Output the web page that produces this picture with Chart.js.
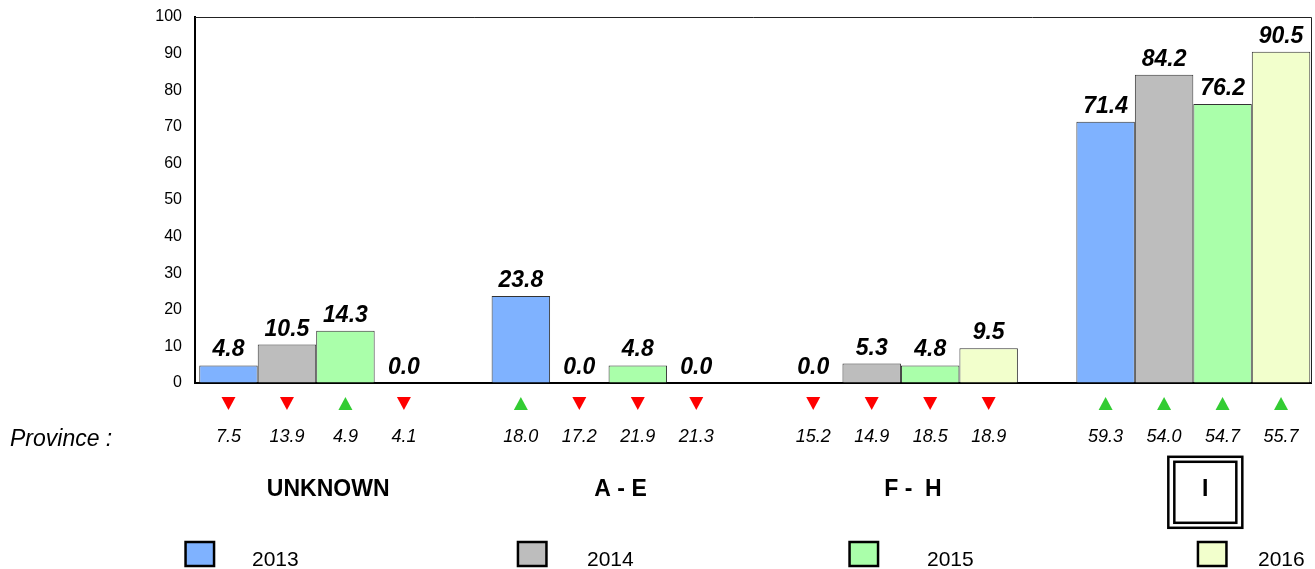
<!DOCTYPE html>
<html>
<head>
<meta charset="utf-8">
<script src="https://cdn.jsdelivr.net/npm/chart.js@4.4.1/dist/chart.umd.min.js"></script>
<style>
  body { margin: 0; background: #fff; }
  #wrap { width: 1315px; height: 569px; }
</style>
</head>
<body>
<div id="wrap"><canvas id="provChart" width="1315" height="569"></canvas></div>
<script>
// province groups and years
const provinces = ['UNKNOWN', 'A - E', 'F -  H', 'I'];
const years = ['2013', '2014', '2015', '2016'];
const highlightProvince = 'I';

// bar values per year
const values2013 = [4.8, 23.8, 0.0, 71.4];
const values2014 = [10.5, 0.0, 5.3, 84.2];
const values2015 = [14.3, 4.8, 4.8, 76.2];
const values2016 = [0.0, 0.0, 9.5, 90.5];

// comparison values shown under the axis
const compare2013 = [7.5, 18.0, 15.2, 59.3];
const compare2014 = [13.9, 17.2, 14.9, 54.0];
const compare2015 = [4.9, 21.9, 18.5, 54.7];
const compare2016 = [4.1, 21.3, 18.9, 55.7];

const yMin = 0, yMax = 100, yStep = 10;

const colors = ['#7fb2ff', '#bdbdbd', '#aaffaa', '#f2ffcc'];
const seriesValues = [values2013, values2014, values2015, values2016];
const seriesCompare = [compare2013, compare2014, compare2015, compare2016];

const FONT = '"Liberation Sans", Arial, sans-serif';

// legend item positions (squares / text), as in the original sheet
const legendBoxX = [184.3, 516.7, 848.3, 1196.7];
const legendTextX = [252, 587, 927, 1258];

const extrasPlugin = {
    id: 'extras',
    afterDatasetsDraw(chart) {
        const ctx = chart.ctx;
        ctx.save();
        ctx.fillStyle = '#000';
        ctx.font = 'italic bold 23px ' + FONT;
        ctx.textAlign = 'center';
        ctx.textBaseline = 'alphabetic';
        chart.data.datasets.forEach((ds, di) => {
            chart.getDatasetMeta(di).data.forEach((bar, i) => {
                ctx.fillText(seriesValues[di][i].toFixed(1), bar.x, bar.y - 9);
            });
        });
        ctx.restore();
    },
    afterDraw(chart) {
        const ctx = chart.ctx;
        const area = chart.chartArea;
        const xScale = chart.scales.x;
        ctx.save();

        // thin top / right frame
        ctx.strokeStyle = '#222';
        ctx.lineWidth = 1;
        ctx.beginPath();
        ctx.moveTo(area.left, area.top + 0.5);
        ctx.lineTo(area.right + 0.5, area.top + 0.5);
        ctx.lineTo(area.right + 0.5, area.bottom);
        ctx.stroke();

        // arrows + comparison values
        chart.data.datasets.forEach((ds, di) => {
            chart.getDatasetMeta(di).data.forEach((bar, i) => {
                const up = seriesValues[di][i] >= seriesCompare[di][i];
                const x = bar.x;
                ctx.fillStyle = up ? '#33cc33' : '#ff0000';
                ctx.beginPath();
                if (up) {
                    ctx.moveTo(x, 397);
                    ctx.lineTo(x + 7, 410);
                    ctx.lineTo(x - 7, 410);
                } else {
                    ctx.moveTo(x - 7, 397);
                    ctx.lineTo(x + 7, 397);
                    ctx.lineTo(x, 410);
                }
                ctx.closePath();
                ctx.fill();

                ctx.fillStyle = '#000';
                ctx.font = 'italic 18px ' + FONT;
                ctx.textAlign = 'center';
                ctx.fillText(seriesCompare[di][i].toFixed(1), x, 442);
            });
        });

        // row label
        ctx.fillStyle = '#000';
        ctx.font = 'italic 23px ' + FONT;
        ctx.textAlign = 'left';
        ctx.fillText('Province :', 10, 446);

        // province names
        ctx.font = 'bold 23px ' + FONT;
        ctx.textAlign = 'center';
        provinces.forEach((p, i) => {
            const cx = xScale.getPixelForValue(i) + 12;
            ctx.fillText(p, cx, 496);
            if (p === highlightProvince) {
                const cy = 492.3;
                ctx.strokeStyle = '#000';
                ctx.lineWidth = 2.5;
                ctx.strokeRect(cx - 37, cy - 35.5, 74, 71);
                ctx.strokeRect(cx - 31, cy - 30.5, 62, 61);
            }
        });

        // legend
        years.forEach((y, i) => {
            ctx.fillStyle = colors[i];
            ctx.fillRect(legendBoxX[i] + 1.25, 542, 28.5, 24);
            ctx.strokeStyle = '#000';
            ctx.lineWidth = 2.5;
            ctx.strokeRect(legendBoxX[i] + 1.25, 542, 28.5, 24);
            ctx.fillStyle = '#000';
            ctx.font = '21px ' + FONT;
            ctx.textAlign = 'left';
            ctx.fillText(y, legendTextX[i], 566);
        });

        ctx.restore();
    }
};

const ctx = document.getElementById('provChart').getContext('2d');
new Chart(ctx, {
    type: 'bar',
    data: {
        datasets: years.map((y, di) => ({
            label: y,
            data: seriesValues[di].map((v, i) => ({ x: i, y: v })),
            backgroundColor: colors[di],
            borderColor: '#333',
            borderWidth: 1,
            barPercentage: 1.0,
            categoryPercentage: 0.8
        }))
    },
    options: {
        responsive: false,
        animation: false,
        layout: { padding: { top: 17, right: 4, left: 0, bottom: 0 } },
        plugins: {
            legend: { display: false },
            tooltip: { enabled: false }
        },
        scales: {
            x: {
                type: 'linear',
                min: -0.4145,
                max: 3.4025,
                offset: false,
                grid: { display: false, offset: false },
                border: { display: true, color: '#000', width: 2 },
                ticks: { display: false },
                afterBuildTicks: (scale) => {
                    scale.ticks = provinces.map((_, i) => ({ value: i }));
                },
                afterFit: (scale) => { scale.height = 186; }
            },
            y: {
                min: yMin,
                max: yMax,
                ticks: {
                    stepSize: yStep,
                    padding: 4,
                    color: '#000',
                    font: { family: FONT, size: 16 }
                },
                grid: {
                    display: true,
                    color: 'rgba(0,0,0,0)',
                    drawOnChartArea: false,
                    drawTicks: true,
                    tickLength: 9
                },
                border: { display: true, color: '#000', width: 2 },
                afterFit: (scale) => { scale.width = 195; }
            }
        }
    },
    plugins: [extrasPlugin]
});
</script>
</body>
</html>
